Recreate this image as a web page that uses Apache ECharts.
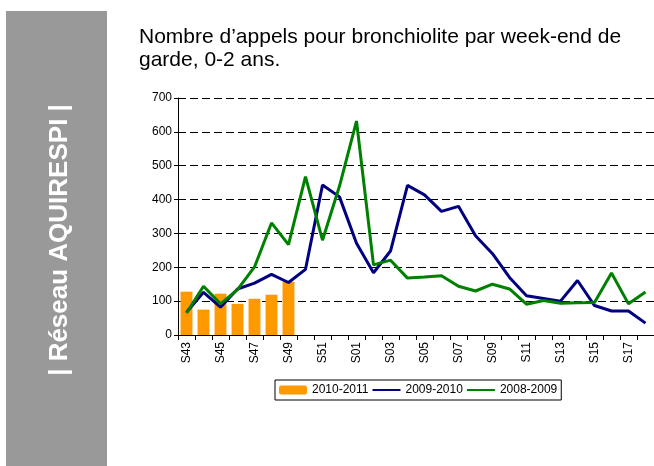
<!DOCTYPE html>
<html>
<head>
<meta charset="utf-8">
<script src="https://cdn.jsdelivr.net/npm/echarts@6/dist/echarts.min.js"></script>
<style>
  html, body { margin: 0; padding: 0; background: #fff; }
  #chart { width: 654px; height: 466px; }
</style>
</head>
<body>
<div id="chart"></div>
<script>
  // week-ends de garde S43 .. S18
  var weeks = ['S43', 'S44', 'S45', 'S46', 'S47', 'S48', 'S49', 'S50', 'S51', 'S52',
               'S01', 'S02', 'S03', 'S04', 'S05', 'S06', 'S07', 'S08', 'S09', 'S10',
               'S11', 'S12', 'S13', 'S14', 'S15', 'S16', 'S17', 'S18'];
  var saison2010 = [128, 75, 122, 92, 107, 119, 157];
  var saison2009 = [67, 126, 82, 136, 153, 179, 155, 194, 443, 408,
                    271, 184, 248, 442, 414, 365, 380, 293, 240, 170,
                    116, 108, 100, 161, 87, 71, 71, 35];
  var saison2008 = [65, 144, 92, 134, 201, 331, 267, 468, 280, 440,
                    632, 207, 221, 168, 171, 175, 144, 130, 150, 136,
                    91, 102, 94, 95, 96, 183, 92, 127];
  var yTicks = { min: 0, max: 700, step: 100 };

  var fontFam = '"Liberation Sans", Arial, sans-serif';
  var chart = echarts.init(document.getElementById('chart'));

  var option = {
    animation: false,
    backgroundColor: '#fff',
    textStyle: { fontFamily: fontFam, color: '#000' },
    title: {
      text: 'Nombre d\u2019appels pour bronchiolite par week-end de\ngarde, 0-2 ans.',
      left: 134,
      top: 21,
      textStyle: { fontSize: 21, fontWeight: 'normal', lineHeight: 23, color: '#000', fontFamily: fontFam }
    },
    graphic: [
      {
        type: 'rect',
        z: -10,
        shape: { x: 6, y: 11, width: 101, height: 460 },
        style: { fill: '#999999' }
      },
      {
        type: 'text',
        x: 60,
        y: 240,
        rotation: Math.PI / 2,
        style: {
          text: '| R\u00e9seau AQUIRESPI |',
          fill: '#fff',
          font: 'bold 26px ' + fontFam,
          textAlign: 'center',
          textVerticalAlign: 'middle'
        }
      }
    ],
    legend: {
      left: 275,
      top: 380,
      padding: [4, 4],
      itemWidth: 28,
      itemHeight: 9,
      itemGap: 3,
      borderColor: '#000',
      borderWidth: 1,
      backgroundColor: '#fff',
      textStyle: { fontSize: 12, color: '#000', fontFamily: fontFam },
      data: [
        { name: '2010-2011' },
        { name: '2009-2010', itemStyle: { opacity: 0 } },
        { name: '2008-2009', itemStyle: { opacity: 0 } }
      ]
    },
    grid: { left: 178, top: 98, width: 480, height: 237 },
    xAxis: {
      type: 'category',
      data: weeks,
      boundaryGap: true,
      axisLine: { lineStyle: { color: '#000', width: 1 } },
      axisTick: { show: true, interval: 0, length: 5, lineStyle: { color: '#000' } },
      axisLabel: { interval: 1, rotate: 90, fontSize: 12, color: '#000', margin: 7 }
    },
    yAxis: {
      type: 'value',
      min: yTicks.min,
      max: yTicks.max,
      interval: yTicks.step,
      axisLine: { show: true, lineStyle: { color: '#000', width: 1 } },
      axisTick: { show: true, length: 4, lineStyle: { color: '#000' } },
      axisLabel: { fontSize: 12, color: '#000', margin: 6 },
      splitLine: { show: true, lineStyle: { color: '#000', type: [8, 4], width: 1 } }
    },
    series: [
      {
        name: '2010-2011',
        type: 'bar',
        data: saison2010,
        barCategoryGap: '30%',
        itemStyle: { color: '#FF9900' }
      },
      {
        name: '2009-2010',
        type: 'line',
        data: saison2009,
        symbol: 'none',
        lineStyle: { color: '#000080', width: 3 },
        itemStyle: { color: '#000080' }
      },
      {
        name: '2008-2009',
        type: 'line',
        data: saison2008,
        symbol: 'none',
        lineStyle: { color: '#008000', width: 3 },
        itemStyle: { color: '#008000' }
      }
    ]
  };

  chart.setOption(option);
</script>
</body>
</html>
